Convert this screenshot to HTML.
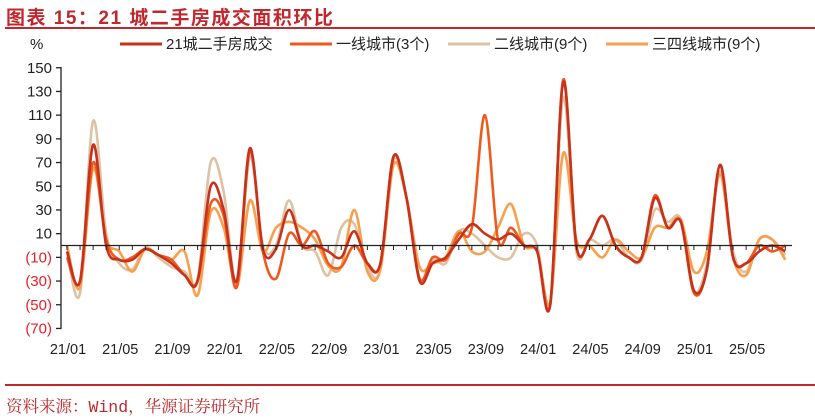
<!DOCTYPE html>
<html><head><meta charset="utf-8"><style>
body{margin:0;background:#fff;width:815px;height:419px;overflow:hidden;position:relative;font-family:"Liberation Sans","Noto Sans CJK SC",sans-serif}
.t{position:absolute;white-space:nowrap}
</style></head><body>
<div class="t" style="left:6px;top:3px;font-size:19px;font-weight:bold;color:#C0282D;font-family:'Liberation Sans','Noto Sans CJK SC',sans-serif;letter-spacing:1.5px">图表 15：21 城二手房成交面积环比</div>
<div style="position:absolute;left:5px;top:27px;width:810px;height:2px;background:#C0282D"></div>
<div style="position:absolute;left:5px;top:384px;width:810px;height:2px;background:#C0282D"></div>
<div class="t" style="left:6px;top:393px;font-size:16.5px;color:#C0282D;font-family:'Liberation Mono','Noto Serif CJK SC',serif">资料来源：Wind，华源证券研究所</div>
<svg id="s" width="815" height="419" style="position:absolute;left:0;top:0" font-family="Liberation Sans, Noto Sans CJK SC, sans-serif">
<text x="30" y="49" font-size="15" fill="#222">%</text>
<g font-size="15" fill="#222">
<line x1="120" y1="44" x2="162" y2="44" stroke="#C8321C" stroke-width="3"/><text x="166" y="49">21城二手房成交</text>
<line x1="290" y1="44" x2="332" y2="44" stroke="#EE5A1E" stroke-width="3"/><text x="336" y="49">一线城市(3个)</text>
<line x1="448" y1="44" x2="490" y2="44" stroke="#DCC3A3" stroke-width="3"/><text x="494" y="49">二线城市(9个)</text>
<line x1="606" y1="44" x2="648" y2="44" stroke="#F7A050" stroke-width="3"/><text x="652" y="49">三四线城市(9个)</text>
</g>
<g id="ax"></g>
<g id="ln" fill="none" stroke-width="2.6" stroke-linejoin="round"></g>
<line x1="61" y1="245.5" x2="792" y2="245.5" stroke="#222" stroke-width="1.3"/>
<g id="tk"></g>
</svg>
<script>
const Y=v=>245.5-v*1.185, X=m=>67+13.06*m;
let ax='<line x1="61" y1="67" x2="61" y2="329" stroke="#222" stroke-width="1.3"/>';
for(let v=150;v>=-70;v-=20){const y=Y(v);ax+=`<line x1="56" y1="${y}" x2="61" y2="${y}" stroke="#222" stroke-width="1.3"/>`;
ax+=`<text x="52" y="${y+5}" font-size="15" text-anchor="end" fill="${v<0?'#E8202A':'#222'}">${v<0?'('+(-v)+')':v}</text>`;}
const L=['21/01','21/05','21/09','22/01','22/05','22/09','23/01','23/05','23/09','24/01','24/05','24/09','25/01','25/05'];
L.forEach((l,i)=>{ax+=`<text x="${X(i*4)+1}" y="354" font-size="14.5" text-anchor="middle" fill="#222">${l}</text>`});
document.getElementById('ax').innerHTML=ax;
let tk='';for(let m=0;m<=55;m++){tk+=`<line x1="${X(m)}" y1="245.5" x2="${X(m)}" y2="250" stroke="#222"/>`}
document.getElementById('tk').innerHTML=tk;
const A=[-5,-30,85,0,-12,-12,-3,-8,-15,-25,-30,50,30,-30,82,-3,-3,30,0,0,-5,-10,12,-15,-15,75,40,-30,-15,-10,5,18,10,5,10,0,-5,-50,138,0,5,25,0,-10,-10,40,15,20,-38,-20,68,-10,-15,-5,0,-5];
const B=[-10,-30,70,5,-12,-10,-3,-8,-12,-25,-30,35,25,-35,80,-5,-28,10,0,12,-15,-18,0,-15,-15,75,40,-28,-10,-12,10,15,110,5,15,0,-5,-50,140,0,5,25,0,-10,-10,42,15,20,-40,-20,68,-10,-15,0,-5,0];
const C=[-5,-40,105,10,-15,-20,-2,-10,-18,-22,-28,70,45,-35,75,0,0,38,0,-5,-25,15,18,-18,-20,72,40,-28,-12,-15,12,10,0,-10,-10,10,0,-50,125,-5,5,0,5,-10,-12,30,20,22,-38,-15,62,-5,-22,5,5,-8];
const D=[0,-35,65,5,-5,-22,-3,-8,-12,-5,-42,28,15,-35,38,-5,15,20,15,5,-17,-18,30,-22,-20,68,40,-18,-15,-10,12,-5,-5,15,35,0,-5,-48,78,5,0,-10,5,-5,-10,15,15,22,-22,-5,60,-10,-25,5,5,-12];
function path(d){const p=d.map((v,i)=>[X(i),Y(v)]);let s=`M${p[0][0]},${p[0][1]}`;
for(let i=0;i<p.length-1;i++){const p0=p[i-1]||p[i],p1=p[i],p2=p[i+1],p3=p[i+2]||p2,t=6;
s+=`C${p1[0]+(p2[0]-p0[0])/t},${p1[1]+(p2[1]-p0[1])/t} ${p2[0]-(p3[0]-p1[0])/t},${p2[1]-(p3[1]-p1[1])/t} ${p2[0]},${p2[1]}`}return s}
let g='';[[C,'#DCC3A3'],[D,'#F7A050'],[B,'#EE5A1E'],[A,'#C8321C']].forEach(([d,c])=>{g+=`<path d="${path(d)}" stroke="${c}"/>`});
document.getElementById('ln').innerHTML=g;
</script>
</body></html>
